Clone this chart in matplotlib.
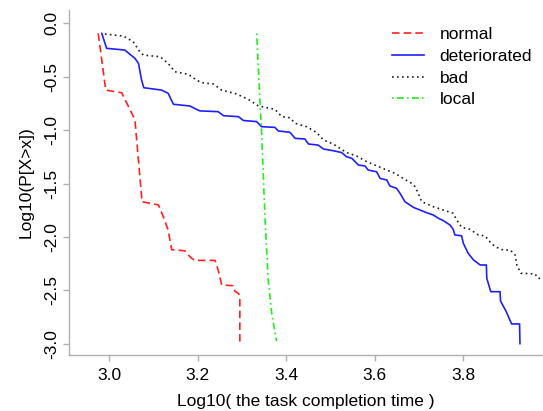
import matplotlib
matplotlib.use("Agg")
import matplotlib.pyplot as plt

# traced step curves: log10(time) vs log10(P[X>x])
normal_x = [2.975, 2.992, 3.028, 3.047, 3.058, 3.073, 3.073, 3.111, 3.122, 3.133,
            3.141, 3.171, 3.175, 3.186, 3.194, 3.239, 3.246, 3.254, 3.280, 3.284,
            3.292, 3.295, 3.295]
normal_y = [-0.094, -0.625, -0.650, -0.810, -0.905, -1.620, -1.670, -1.700, -1.810, -1.935,
            -2.120, -2.130, -2.155, -2.200, -2.220, -2.220, -2.310, -2.450, -2.457, -2.510,
            -2.530, -2.560, -3.000]

deter_x = [2.983, 2.994, 3.035, 3.058, 3.066, 3.073, 3.078, 3.118, 3.133, 3.145,
           3.182, 3.197, 3.205, 3.246, 3.258, 3.292, 3.303, 3.333, 3.344, 3.374,
           3.382, 3.408, 3.420, 3.442, 3.450, 3.472, 3.484, 3.506, 3.525, 3.536,
           3.548, 3.563, 3.578, 3.585, 3.604, 3.612, 3.627, 3.634, 3.649, 3.657,
           3.668, 3.687, 3.702, 3.717, 3.732, 3.744, 3.755, 3.770, 3.777, 3.781,
           3.796, 3.800, 3.811, 3.823, 3.838, 3.852, 3.853, 3.862, 3.883, 3.884,
           3.897, 3.909, 3.927, 3.928]
deter_y = [-0.094, -0.234, -0.250, -0.328, -0.375, -0.531, -0.603, -0.625, -0.655, -0.758,
           -0.774, -0.805, -0.820, -0.827, -0.865, -0.874, -0.910, -0.920, -0.968, -0.974,
           -1.008, -1.020, -1.077, -1.083, -1.130, -1.140, -1.177, -1.193, -1.210, -1.249,
           -1.264, -1.327, -1.336, -1.374, -1.390, -1.452, -1.467, -1.523, -1.545, -1.592,
           -1.670, -1.723, -1.748, -1.773, -1.795, -1.826, -1.848, -1.889, -1.929, -1.982,
           -1.989, -2.060, -2.154, -2.216, -2.263, -2.263, -2.388, -2.513, -2.513, -2.600,
           -2.700, -2.815, -2.815, -3.000]

bad_x = [2.990, 3.032, 3.054, 3.069, 3.077, 3.115, 3.133, 3.148, 3.179, 3.197,
         3.209, 3.235, 3.254, 3.288, 3.314, 3.337, 3.374, 3.390, 3.408, 3.420,
         3.446, 3.469, 3.484, 3.506, 3.536, 3.559, 3.582, 3.612, 3.627, 3.646,
         3.664, 3.683, 3.691, 3.698, 3.706, 3.732, 3.777, 3.785, 3.796, 3.815,
         3.834, 3.849, 3.860, 3.872, 3.890, 3.906, 3.917, 3.921, 3.930, 3.962,
         3.969, 3.990]
bad_y = [-0.100, -0.119, -0.172, -0.266, -0.297, -0.313, -0.375, -0.453, -0.478, -0.531,
         -0.556, -0.568, -0.625, -0.662, -0.712, -0.774, -0.805, -0.874, -0.884, -0.936,
         -0.968, -1.024, -1.093, -1.130, -1.210, -1.243, -1.296, -1.348, -1.374, -1.405,
         -1.452, -1.498, -1.530, -1.592, -1.670, -1.717, -1.779, -1.842, -1.910, -1.929,
         -1.982, -1.990, -2.045, -2.092, -2.123, -2.123, -2.170, -2.263, -2.340, -2.347,
         -2.388, -2.388]

local_x = [3.333, 3.341, 3.344, 3.352, 3.359, 3.367, 3.378]
local_y = [-0.094, -0.780, -1.000, -1.840, -2.400, -2.715, -2.975]

plt.rcParams["font.family"] = ["Liberation Sans", "DejaVu Sans"]
plt.rcParams["font.size"] = 12.5

fig = plt.figure(figsize=(5.43, 4.11), dpi=100)
ax = fig.add_axes([69 / 543, 56 / 411, 1 - 69 / 543, (355 - 10) / 411])

ax.plot(normal_x, normal_y, color="#ff2020", lw=1.2, dashes=(4.5, 2.5), label="normal")
ax.plot(deter_x, deter_y, color="#2020ff", lw=1.2, label="deteriorated")
ax.plot(bad_x, bad_y, color="#202020", lw=1.2, dashes=(1, 2), label="bad")
ax.plot(local_x, local_y, color="#20ee20", lw=1.2, dashes=(1, 2, 4, 2), label="local")

ax.set_xlim(2.909, 3.98)
ax.set_ylim(-3.106, 0.125)
ax.set_xticks([3.0, 3.2, 3.4, 3.6, 3.8])
ax.set_yticks([0.0, -0.5, -1.0, -1.5, -2.0, -2.5, -3.0])
ax.set_xticklabels(["3.0", "3.2", "3.4", "3.6", "3.8"])
ax.set_yticklabels(["0.0", "-0.5", "-1.0", "-1.5", "-2.0", "-2.5", "-3.0"],
                   rotation=90, va="center")

for side in ("top", "right"):
    ax.spines[side].set_visible(False)
for side in ("left", "bottom"):
    ax.spines[side].set_color("#b0b0b0")
    ax.spines[side].set_linewidth(1.0)
ax.tick_params(axis="both", colors="#b0b0b0", labelcolor="black", length=4, width=1.0)
ax.tick_params(axis="x", pad=5)
ax.tick_params(axis="y", pad=3)

ax.set_xlabel("Log10( the task completion time )", labelpad=8)
ax.set_ylabel("Log10(P[X>x])", labelpad=8)

fig.legend(loc="upper left", bbox_to_anchor=(392 / 543, 1 - 27 / 411), frameon=False,
           borderpad=0, borderaxespad=0, handlelength=1.85, handletextpad=0.9,
           labelspacing=0.38, fontsize=12.5)

fig.savefig("out.png", dpi=100)
